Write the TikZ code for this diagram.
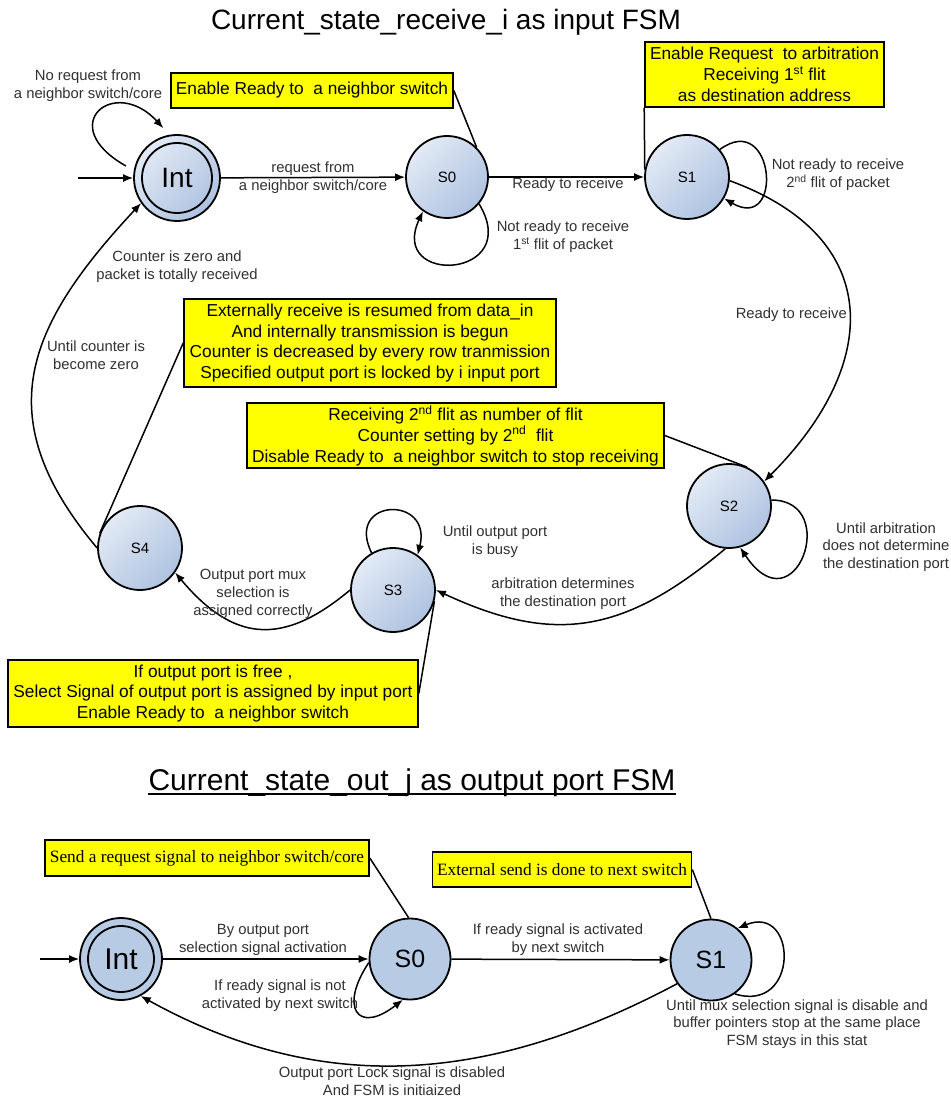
\documentclass[tikz,border=0pt]{standalone}
\usepackage{fontspec}
\setmainfont{Liberation Sans}
\newfontfamily\noteserif{Liberation Serif}
\usetikzlibrary{arrows.meta}
\definecolor{stlight}{HTML}{E2EAF5}
\definecolor{stdark}{HTML}{AEC2E0}
\definecolor{stflat}{HTML}{B8CBE4}
\definecolor{notefill}{HTML}{FFFF00}
\definecolor{labelgray}{HTML}{303030}
\tikzset{
  state node/.style={
    circle, draw, line width=1.8pt,
    minimum size={2*#1}, inner sep=0pt,
    top color=stlight, bottom color=stdark, shading angle=45,
    font=\fontsize{15}{18}\selectfont,
  },
  flat state/.style={
    circle, draw, line width=1.8pt,
    minimum size={2*#1}, inner sep=0pt,
    fill=stflat,
    font=\fontsize{25}{30}\selectfont,
  },
  note box/.style 2 args={
    draw, line width=1.6pt, fill=notefill, align=center,
    inner sep=0pt, minimum width=#1, minimum height=#2,
    font=\fontsize{17.3}{20.8}\selectfont,
  },
  annotation/.style={
    align=center, text=labelgray, inner sep=1pt,
    font=\fontsize{14.8}{17.8}\selectfont,
  },
  fsm arrow/.style={-{Latex[length=10pt,width=8pt]}, line width=1.5pt},
  link/.style={line width=1.5pt},
}
\begin{document}
\begin{tikzpicture}[x=1pt, y=1pt]
    \useasboundingbox (0,0) rectangle (950,-1099);

    % input FSM
    \node [font=\fontsize{28}{34}\selectfont, anchor=base] (title1) at (446,-30) {Current\_state\_receive\_i as input FSM};

    \node [state node=43pt, font=\fontsize{28}{34}\selectfont] (int) at (177,-178) {Int};
    \draw [line width=1.8pt] (int.center) circle (35pt);
    \node [state node=41pt] (s0) at (447,-177) {S0};
    \node [state node=42pt] (s1) at (687,-177) {S1};
    \node [state node=42pt] (s2) at (729,-506) {S2};
    \node [state node=42pt] (s3) at (393,-590) {S3};
    \node [state node=42pt] (s4) at (140,-548) {S4};

    \node [note box={282pt}{35pt}] (readynote) at (312,-90.5) {Enable Ready to~ a neighbor switch};
    \node [note box={239pt}{65pt}] (requestnote) at (764.5,-74.5) {Enable Request~ to arbitration\\Receiving 1\textsuperscript{st} flit\\as destination address};
    \node [note box={372pt}{88pt}] (resumenote) at (370,-343) {Externally receive is resumed from data\_in\\And internally transmission is begun\\Counter is decreased by every row tranmission\\Specified output port is locked by i input port};
    \node [note box={417pt}{65pt}] (counternote) at (455.5,-435.5) {Receiving 2\textsuperscript{nd} flit as number of flit\\Counter setting by 2\textsuperscript{nd}~ flit\\Disable Ready to~ a neighbor switch to stop receiving};
    \node [note box={410pt}{67pt}] (selectnote) at (213,-693.5) {If output port is free ,\\Select Signal of output port is assigned by input port\\Enable Ready to~ a neighbor switch};

    \coordinate (start1) at (78,-178);
    \draw [fsm arrow] (start1) -- (int);
    \draw [fsm arrow, shorten <=9pt, shorten >=9pt] (int.170) .. controls +(-80,45) and +(-55,60) .. (int.100);
    \draw [fsm arrow] (int) -- (s0);
    \draw [fsm arrow] (s0.-40) .. controls +(45,-75) and +(-35,-75) .. (s0.-125);
    \draw [fsm arrow] (s0) -- (s1);
    \draw [fsm arrow] (s1.40) .. controls +(55,40) and +(60,-35) .. (s1.-30);
    \draw [fsm arrow] (s1.-5) to [out=-20, in=45, looseness=1.4] (s2.35);
    \draw [fsm arrow] (s2.8) .. controls +(70,0) and +(55,-83) .. (s2.-75);
    \draw [fsm arrow] (s2.-95) to [out=-140, in=-25, looseness=1.15] (s3.0);
    \draw [fsm arrow] (s3.120) .. controls +(-27,55) and +(15,60) .. (s3.55);
    \draw [fsm arrow] (s3.180) to [out=-140, in=-50, looseness=1.3] (s4.-35);
    \draw [fsm arrow] (s4.180) to [out=130, in=-133, looseness=1.25] (int.215);

    \draw [link] (readynote.east) -- (s0.45);
    \draw [link] (requestnote.south west) -- (s1.170);
    \draw [link] (resumenote.west) -- (s4.160);
    \draw [link] (counternote.east) -- (s2.65);
    \draw [link] (selectnote.east) -- (s3.-15);

    \node [annotation] (noreq) at (88,-86) {No request from\\a neighbor switch/core};
    \node [annotation] (req) at (313,-178) {request from\\a neighbor switch/core};
    \node [annotation] (notready1) at (563,-237) {Not ready to receive\\1\textsuperscript{st} flit of packet};
    \node [annotation] (ready1) at (568,-185) {Ready to receive};
    \node [annotation] (notready2) at (838,-175) {Not ready to receive\\2\textsuperscript{nd} flit of packet};
    \node [annotation, anchor=east] (ready2) at (848,-315) {Ready to receive};
    \node [annotation] (arbwait) at (886,-547) {Until arbitration\\does not determine\\the destination port};
    \node [annotation] (arbdone) at (563,-594) {arbitration determines\\the destination port};
    \node [annotation] (busy) at (495,-542) {Until output port\\is busy};
    \node [annotation] (muxok) at (253,-594) {Output port mux\\selection is\\assigned correctly};
    \node [annotation] (zero) at (96,-355) {Until counter is\\become zero};
    \node [annotation] (done) at (177,-267) {Counter is zero and\\packet is totally received};

    % output FSM
    \node [font=\fontsize{30}{36}\selectfont, anchor=base, inner sep=0pt] (title2) at (412,-790) {Current\_state\_out\_j as output port FSM};
    \draw [line width=2.5pt] ([yshift=-4pt]title2.base west) -- ([yshift=-4pt]title2.base east);

    \node [flat state=41pt, font=\fontsize{30}{36}\selectfont] (oint) at (121,-959) {Int};
    \draw [line width=1.8pt] (oint.center) circle (33pt);
    \node [flat state=40.5pt] (os0) at (410,-959) {S0};
    \node [flat state=40.5pt] (os1) at (711,-960) {S1};

    \node [note box={324pt}{36pt}, font=\noteserif\fontsize{17.3}{20.8}\selectfont] (sendnote) at (207,-858) {Send a request signal to neighbor switch/core};
    \node [note box={259pt}{35pt}, font=\noteserif\fontsize{17.3}{20.8}\selectfont] (extnote) at (562,-869.5) {External send is done to next switch};

    \coordinate (start2) at (40,-959);
    \draw [fsm arrow] (start2) -- (oint);
    \draw [fsm arrow] (oint) -- (os0);
    \draw [fsm arrow] (os0.185) .. controls +(-30,-45) and +(-45,-35) .. (os0.-100);
    \draw [fsm arrow] (os0) -- (os1);
    \draw [fsm arrow] (os1.-55) .. controls +(65,-20) and +(60,25) .. (os1.50);
    \draw [fsm arrow] (os1.-145) to [out=-152, in=-29] (oint.-62);

    \draw [link] (sendnote.east) -- (os0.92);
    \draw [link] (extnote.east) -- (os1.north);

    \node [annotation] (select) at (263,-940) {By output port\\selection signal activation};
    \node [annotation] (notact) at (280,-996) {If ready signal is not\\activated by next switch};
    \node [annotation] (act) at (558,-940) {If ready signal is activated\\by next switch};
    \node [annotation] (stay) at (797,-1024) {Until mux selection signal is disable and\\buffer pointers stop at the same place\\FSM stays in this stat};
    \node [annotation] (unlock) at (392,-1081) {Output port Lock signal is disabled\\And FSM is initiaized};
\end{tikzpicture}
\end{document}
